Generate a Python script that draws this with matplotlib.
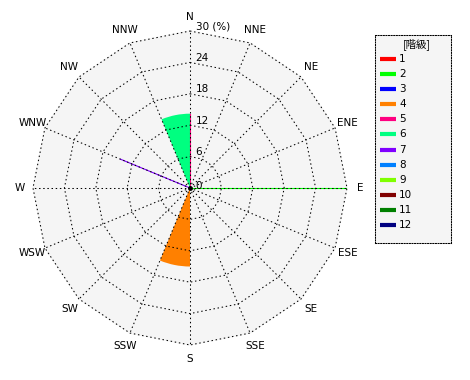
import numpy as np
import matplotlib
matplotlib.use("Agg")
import matplotlib.pyplot as plt

plt.rcParams['font.family'] = ['DejaVu Sans', 'Noto Sans CJK JP']
plt.rcParams['font.size'] = 7.5

directions = ['N', 'NNE', 'NE', 'ENE', 'E', 'ESE', 'SE', 'SSE',
              'S', 'SSW', 'SW', 'WSW', 'W', 'WNW', 'NW', 'NNW']
rings = [6, 12, 18, 24, 30]

class_labels = ['1', '2', '3', '4', '5', '6', '7', '8', '9', '10', '11', '12']
class_colors = ['#ff0000', '#00ff00', '#0000ff', '#ff8000', '#ff0080', '#00ff80',
                '#8000ff', '#0080ff', '#80ff00', '#800000', '#008000', '#000080']

# filled sectors: class, sector start direction, percentage
wedge_class = [6, 4]
wedge_from = ['NNW', 'S']
wedge_pct = [14.2, 15.0]

# zero-width sectors drawn as lines
line_class = [5, 7, 2]
line_dir = ['N', 'WNW', 'E']
line_pct = [14.2, 14.4, 30.0]

step = 2 * np.pi / len(directions)


def dir_angle(name):
    return directions.index(name) * step


fig = plt.figure(figsize=(4.7, 3.8), dpi=100)
ax = fig.add_axes([33 / 470, 35 / 380, 314 / 470, 314 / 380], projection='polar')
ax.set_theta_zero_location('N')
ax.set_theta_direction(-1)
ax.set_ylim(0, 30)
ax.set_axis_off()

poly = np.arange(len(directions) + 1) * step
ax.fill(poly, [30] * len(poly), color='#f5f5f5', zorder=0, clip_on=False)

for cls, start, pct in zip(wedge_class, wedge_from, wedge_pct):
    ax.bar(dir_angle(start), pct, width=step, align='edge',
           color=class_colors[cls - 1], edgecolor='none', zorder=1)

for cls, d, pct in zip(line_class, line_dir, line_pct):
    ax.plot([dir_angle(d)] * 2, [0, pct], color=class_colors[cls - 1],
            lw=0.8, zorder=2)

dots = dict(color='black', lw=0.75, linestyle=(0, (1.4, 2.6)), zorder=3, clip_on=False)
for r in rings:
    ax.plot(poly, [r] * len(poly), **dots)
for d in directions:
    ax.plot([dir_angle(d)] * 2, [0, 30], **dots)

ax.plot(0, 0, 'o', color='black', ms=2.5, zorder=4)

for d in directions:
    ax.text(dir_angle(d), 32.6, d, ha='center', va='center')

for r in rings:
    lab = '30 (%)' if r == 30 else str(r)
    ax.annotate(lab, xy=(0, r), xytext=(4, 1), textcoords='offset points',
                ha='left', va='baseline', zorder=5)
ax.annotate('0', xy=(0, 0), xytext=(6, 1.5), textcoords='offset points',
            ha='center', va='center', zorder=5)

# legend box
lax = fig.add_axes([375 / 470, (380 - 243) / 380, 76 / 470, 208 / 380])
lax.set_xlim(0, 1)
lax.set_ylim(13.19, -0.59)
lax.set_facecolor('#f5f5f5')
lax.set_xticks([])
lax.set_yticks([])
for s in lax.spines.values():
    s.set_linestyle((0, (1, 1.5)))
    s.set_linewidth(0.75)
lax.text(0.55, 0, '[階級]', ha='center', va='center', color='black',
         family=['Noto Sans CJK JP', 'DejaVu Sans'])
for i, (lab, c) in enumerate(zip(class_labels, class_colors)):
    lax.plot([0.066, 0.276], [i + 1, i + 1], color=c, lw=3, solid_capstyle='butt')
    lax.text(0.316, i + 1, lab, ha='left', va='center')

fig.savefig('out.png', dpi=100)
